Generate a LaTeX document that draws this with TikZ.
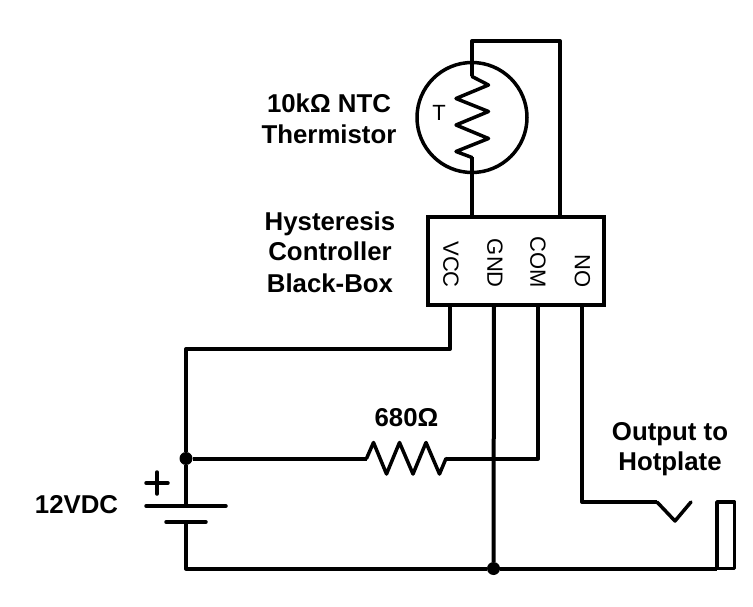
\documentclass[tikz,border=0pt]{standalone}
\usepackage{fontspec}
\setmainfont{Liberation Sans}
\begin{document}
\begin{tikzpicture}[x=1pt, y=-1pt, node distance=31pt]
    \tikzstyle{wire} = [line width=4pt, line join=round]
    \tikzstyle{thin wire} = [line width=3.5pt, line join=round, line cap=round]
    \tikzstyle{label} = [font=\fontsize{25.8}{30}\selectfont\bfseries, align=center, inner sep=0pt, text height=19pt, text depth=6pt]
    \tikzstyle{pin} = [font=\fontsize{22}{26}\selectfont, rotate=-90, anchor=east, inner sep=0pt]
    \tikzstyle{junction} = [circle, fill=black, minimum size=13pt, inner sep=0pt]
    \useasboundingbox (0,0) rectangle (753,607);

    % controller box and thermistor
    \node (box) [rectangle, draw, line width=4pt, minimum width=176pt, minimum height=88pt, inner sep=0pt] at (516,261) {};
    \node (therm) [circle, draw, line width=3.5pt, minimum size=110pt, inner sep=0pt] at (472,117.5) {};
    \node (tlabel) [font=\fontsize{22}{26}\selectfont, inner sep=0pt] at (439,113) {T};

    % pin names
    \node (vcc) [pin] at (451,288) {VCC};
    \node (gnd) [pin] at (495,288) {GND};
    \node (com) [pin] at (538,288) {COM};
    \node (no) [pin] at (582.5,288) {NO};

    % labels
    \node (ntc) [label] at (329,106.2) {10kΩ NTC};
    \node (thermtext) [label, below of=ntc] {Thermistor};
    \node (hyst) [label] at (330,223.5) {Hysteresis};
    \node (ctrl) [label, below of=hyst] {Controller};
    \node (blackbox) [label, below of=ctrl] {Black-Box};
    \node (ohm) [label] at (406.5,419.5) {680Ω};
    \node (output) [label] at (670,433.5) {Output to};
    \node (hotplate) [label, below of=output, node distance=30pt] {Hotplate};
    \node (volt) [label] at (76.5,506.8) {12VDC};

    % junctions
    \node (jbat) [junction] at (186,458.5) {};
    \node (jgnd) [junction] at (493.5,568.5) {};

    % connection points
    \coordinate (thtop) at (472,76.5);
    \coordinate (thbot) at (472,157.5);
    \coordinate (boxa) at (472,217);
    \coordinate (boxb) at (560,217);
    \coordinate (pinvcc) at (450,305);
    \coordinate (pingnd) at (494,305);
    \coordinate (pincom) at (538,305);
    \coordinate (pinno) at (582,305);
    \coordinate (resl) at (366.5,458.5);
    \coordinate (resr) at (446,458.5);
    \coordinate (platep) at (186,506);
    \coordinate (platen) at (186,522);
    \coordinate (contact) at (657,502);
    \coordinate (hotbot) at (717,568.5);

    % thermistor wiring
    \draw[wire] (thtop) -- (472,41) -- (560,41) -- (boxb);
    \draw[wire] (thbot) -- (boxa);
    \draw[thin wire] (thtop) -- (488.5,85) -- (456,98.5) -- (488.5,111.5) -- (456,125) -- (488.5,138.5) -- (456,151.5) -- (thbot);

    % supply wiring
    \draw[wire] (pinvcc) -- (450,349) -- (186,349) -- (jbat);
    \draw[wire] (jbat) -- (platep);
    \draw[wire] (jbat) -- (resl);
    \draw[thin wire] (resl) -- (373.5,442.5) -- (386.5,474) -- (399.5,442.5) -- (413,474) -- (426,442.5) -- (439.5,474) -- (resr);
    \draw[wire] (resr) -- (538,458.5) -- (pincom);
    \draw[wire] (pingnd) -- (jgnd);
    \draw[wire] (platen) -- (186,568.5) -- (jgnd);
    \draw[wire] (jgnd) -- (hotbot);

    % battery
    \draw[thin wire] (146,506) -- (226,506);
    \draw[thin wire] (166,522) -- (206,522);
    \draw[thin wire] (146,483) -- (168,483);
    \draw[thin wire] (157,472) -- (157,494);

    % hotplate output
    \draw[wire] (pinno) -- (582,502) -- (contact);
    \draw[thin wire] (contact) -- (675,521) -- (691,502);
    \draw[line width=3.5pt, line join=round] (717,502) rectangle (734.5,568.5);
\end{tikzpicture}
\end{document}
